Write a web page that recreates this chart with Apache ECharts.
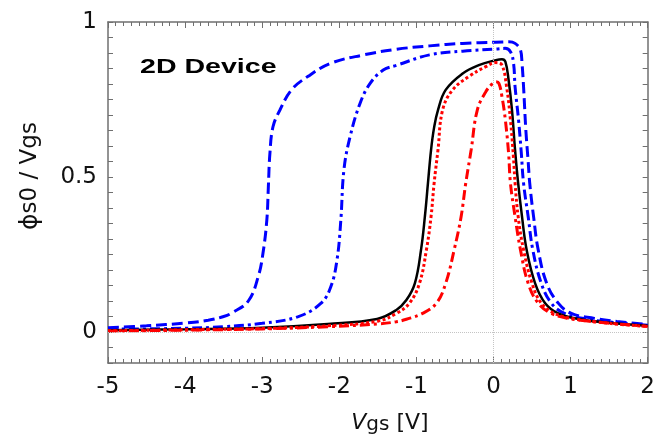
<!DOCTYPE html>
<html>
<head>
<meta charset="utf-8">
<script src="https://cdn.jsdelivr.net/npm/echarts@6/dist/echarts.min.js"></script>
<style>html,body{margin:0;padding:0;background:#fff;}#c{width:658px;height:441px;}</style>
</head>
<body>
<div id="c"></div>
<script>
// x ticks and y tick labels
var xTicks = [-5, -4, -3, -2, -1, 0, 1, 2];
var yTickLabels = [0, 0.5, 1];

// Blue dashed curve
var blueDashed = [[-5,0.014],[-4.5,0.02],[-4,0.029],[-3.7,0.038],[-3.5,0.05],[-3.39,0.062],[-3.18,0.10],[-3.05,0.18],[-2.99,0.254],[-2.94,0.361],[-2.92,0.469],[-2.90,0.576],[-2.86,0.662],[-2.77,0.716],[-2.62,0.781],[-2.41,0.824],[-2.11,0.867],[-1.68,0.894],[-1.26,0.912],[-0.83,0.923],[-0.40,0.931],[0.03,0.935],[0.2,0.936],[0.28,0.931],[0.35,0.91],[0.37,0.867],[0.39,0.791],[0.42,0.65],[0.45,0.55],[0.47,0.48],[0.52,0.372],[0.58,0.265],[0.69,0.157],[0.84,0.093],[1.01,0.06],[1.31,0.044],[1.6,0.034],[2,0.024]];
// Blue dash-dot curve
var blueDashDot = [[-5,0.009],[-4,0.012],[-3.5,0.017],[-3,0.028],[-2.54,0.049],[-2.24,0.092],[-2.11,0.146],[-2.03,0.232],[-1.98,0.361],[-1.94,0.523],[-1.86,0.63],[-1.73,0.738],[-1.60,0.802],[-1.43,0.845],[-1.26,0.86],[-0.83,0.894],[-0.40,0.906],[0.03,0.913],[0.15,0.915],[0.22,0.904],[0.26,0.867],[0.28,0.791],[0.325,0.684],[0.36,0.58],[0.39,0.48],[0.45,0.372],[0.51,0.265],[0.62,0.157],[0.75,0.093],[0.92,0.06],[1.2,0.042],[1.6,0.03],[2,0.022]];
// Black solid curve
var blackSolid = [[-5,0.006],[-4,0.009],[-3,0.014],[-2.15,0.026],[-1.51,0.042],[-1.26,0.071],[-1.13,0.103],[-1.02,0.157],[-0.94,0.265],[-0.89,0.372],[-0.85,0.48],[-0.81,0.587],[-0.77,0.66],[-0.72,0.716],[-0.62,0.781],[-0.40,0.834],[-0.19,0.861],[0.03,0.877],[0.11,0.88],[0.154,0.872],[0.196,0.813],[0.24,0.716],[0.28,0.587],[0.32,0.48],[0.37,0.372],[0.43,0.265],[0.54,0.157],[0.67,0.093],[0.84,0.06],[1.1,0.042],[1.5,0.03],[2,0.02]];
// Red dotted curve
var redDotted = [[-5,0.004],[-4,0.007],[-3,0.011],[-2.15,0.02],[-1.5,0.035],[-1.26,0.06],[-1.09,0.093],[-0.96,0.157],[-0.87,0.265],[-0.81,0.372],[-0.77,0.48],[-0.72,0.587],[-0.66,0.716],[-0.53,0.781],[-0.32,0.824],[-0.10,0.856],[0.03,0.869],[0.11,0.861],[0.17,0.791],[0.22,0.684],[0.26,0.56],[0.28,0.48],[0.32,0.372],[0.39,0.265],[0.50,0.157],[0.62,0.093],[0.79,0.06],[1.05,0.042],[1.5,0.028],[2,0.018]];
// Red dash-dot curve
var redDashDot = [[-5,0.003],[-4,0.006],[-3,0.01],[-2.15,0.017],[-1.5,0.026],[-1.26,0.033],[-1.13,0.041],[-0.92,0.06],[-0.74,0.093],[-0.62,0.157],[-0.51,0.265],[-0.42,0.372],[-0.36,0.48],[-0.29,0.587],[-0.21,0.716],[-0.10,0.775],[-0.01,0.802],[0.03,0.807],[0.07,0.802],[0.11,0.759],[0.154,0.684],[0.196,0.576],[0.22,0.48],[0.28,0.372],[0.35,0.265],[0.45,0.157],[0.58,0.093],[0.75,0.06],[0.97,0.044],[1.31,0.033],[1.7,0.024],[2,0.018]];

var chart = echarts.init(document.getElementById('c'));
var axisColor = '#6f6f6f';
var labelFont = {fontFamily: 'DejaVu Sans', fontSize: 23, color: '#111'};
function xAxisCfg(pos, showLabel) {
  return {
    type: 'value', position: pos, min: xTicks[0], max: xTicks[xTicks.length - 1], interval: 1,
    axisLine: {show: true, onZero: false, lineStyle: {color: axisColor, width: 1.5}},
    axisTick: {show: true, inside: true, length: 6, lineStyle: {color: axisColor, width: 1}},
    minorTick: {show: true, splitNumber: 10, length: 4, lineStyle: {color: axisColor, width: 1}},
    axisLabel: Object.assign({show: showLabel, margin: 13}, labelFont),
    splitLine: {show: false}
  };
}
function yAxisCfg(pos, showLabel) {
  return {
    type: 'value', position: pos, min: -0.1, max: 1, interval: 0.05,
    axisLine: {show: true, onZero: false, lineStyle: {color: axisColor, width: 1.5}},
    axisTick: {show: true, inside: true, length: 5, lineStyle: {color: axisColor, width: 1}},
    axisLabel: Object.assign({show: showLabel, margin: 11, customValues: yTickLabels}, labelFont),
    splitLine: {show: false}
  };
}
function lineSeries(name, data, color, type, width) {
  return {
    name: name, type: 'line', data: data, showSymbol: false, symbol: 'none',
    smooth: 0.4,
    lineStyle: {color: color, type: type, width: width, cap: 'butt'},
    xAxisIndex: 0, yAxisIndex: 0
  };
}
var s0 = lineSeries('blueDashed', blueDashed, '#0000ff', [11, 5], 3);
s0.markLine = {
  silent: true, symbol: 'none', label: {show: false}, animation: false,
  lineStyle: {color: '#c4c4c4', type: 'dotted', width: 1},
  data: [{xAxis: 0}, {yAxis: 0}]
};
var option = {
  animation: false,
  grid: {left: 108, right: 4, top: 22, bottom: 78},
  xAxis: [xAxisCfg('bottom', true), xAxisCfg('top', false)],
  yAxis: [yAxisCfg('left', true), yAxisCfg('right', false)],
  series: [
    s0,
    lineSeries('blueDashDot', blueDashDot, '#0000ff', [10, 4, 3, 4], 3),
    lineSeries('blackSolid', blackSolid, '#000000', 'solid', 2.5),
    lineSeries('redDotted', redDotted, '#ff0000', [3, 2.5], 3),
    lineSeries('redDashDot', redDashDot, '#ff0000', [10, 4, 3, 4], 3)
  ],
  graphic: [
    {
      type: 'text', x: 140, y: 57, z: 10,
      scaleX: 1.36,
      style: {text: '2D Device', fontFamily: 'Liberation Sans', fontWeight: 'bold', fontSize: 21, fill: '#000'}
    },
    {
      type: 'text', x: 30, y: 176, rotation: Math.PI / 2, z: 10,
      style: {
        text: '{p|ϕ}{t|s0 / Vgs}', align: 'center', verticalAlign: 'middle',
        rich: {
          p: {fontFamily: 'DejaVu Sans', fontSize: 25, fill: '#111'},
          t: {fontFamily: 'DejaVu Sans', fontSize: 23, fill: '#111'}
        }
      }
    },
    {
      type: 'text', x: 390, y: 423, z: 10,
      style: {
        text: '{v|V}{s|gs}{t| [V]}', align: 'center', verticalAlign: 'middle',
        rich: {
          v: {fontFamily: 'DejaVu Sans', fontStyle: 'italic', fontSize: 22, fill: '#111'},
          s: {fontFamily: 'DejaVu Sans', fontSize: 20, fill: '#111', padding: [4, 0, 0, 0]},
          t: {fontFamily: 'DejaVu Sans', fontSize: 22, fill: '#111'}
        }
      }
    }
  ]
};
chart.setOption(option);
</script>
</body>
</html>
